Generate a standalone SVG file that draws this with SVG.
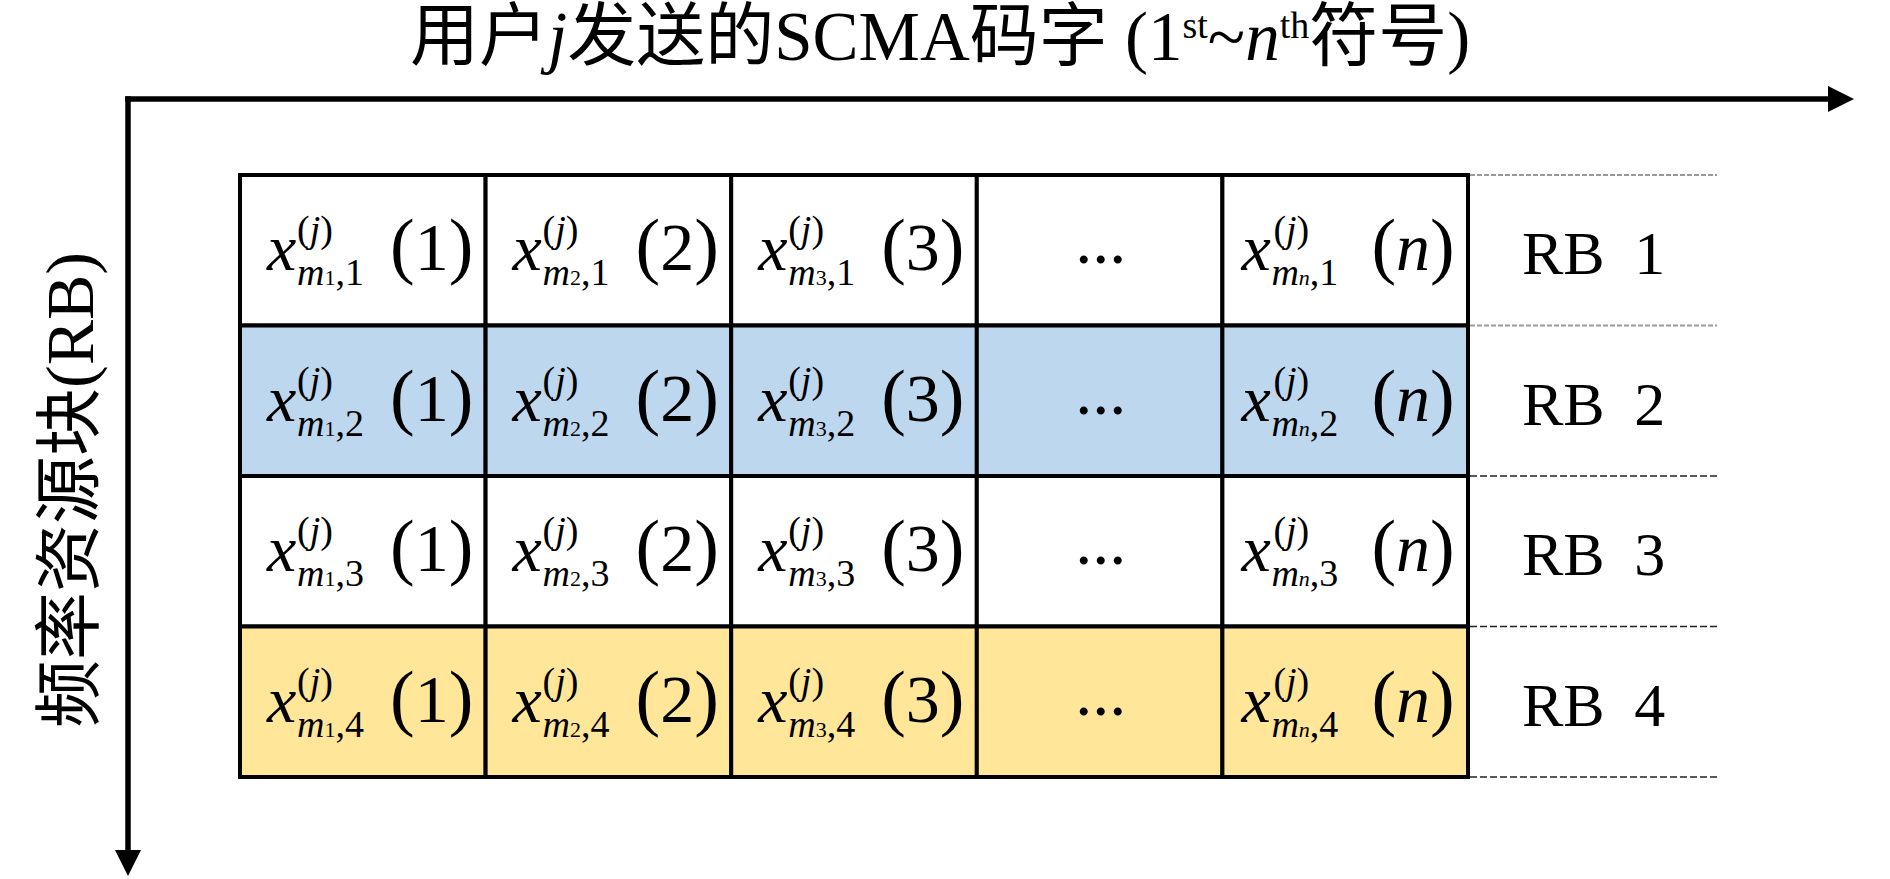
<svg xmlns="http://www.w3.org/2000/svg" width="1890" height="879" viewBox="0 0 1890 879">
<style>
text { font-family: "Liberation Serif", "Noto Sans CJK SC", serif; fill: #000; }
.X { font-size: 66px; font-style: italic; }
.P { font-size: 68px; }
.PP { font-size: 74px; }
.S { font-size: 38px; }
.SS { font-size: 22px; }
.it { font-style: italic; }
.RB { font-size: 62px; word-spacing: 14px; }
.cell { stroke: #000; stroke-width: 4; }
.w { fill: #FFFFFF; }
.b { fill: #BDD7EE; }
.y { fill: #FFE699; }
.axis { stroke: #000; stroke-width: 5.5; fill: none; stroke-linecap: square; }
.dg { stroke: #999; stroke-width: 2; stroke-dasharray: 5 2; fill: none; }
.dk { stroke: #222; stroke-width: 1.6; stroke-dasharray: 7 3; fill: none; }
</style>
<defs>
<marker id="arr" markerUnits="userSpaceOnUse" markerWidth="27" markerHeight="27" refX="0" refY="13" orient="auto">
<path d="M0,0 L26,13 L0,26 Z" fill="#000"/>
</marker>
</defs>

<g id="title">
<text x="410" y="60" font-size="69">用户<tspan class="it">j</tspan>发送的SCMA码字 (1<tspan font-size="38" dy="-22">st</tspan><tspan dy="22">~</tspan><tspan class="it">n</tspan><tspan font-size="38" dy="-22">th</tspan><tspan dy="22">符号)</tspan></text>
</g>

<g id="ylabel">
<text transform="translate(93,490) rotate(-90)" text-anchor="middle" font-size="68">频率资源块(RB)</text>
</g>

<g id="connectors">
<path class="axis" d="M128,99 H1828" marker-end="url(#arr)"/>
<path class="axis" d="M128,99 V850" marker-end="url(#arr)"/>
<path class="dg" d="M1470,175 H1717"/>
<path class="dg" d="M1470,325.5 H1717"/>
<path class="dk" d="M1470,476 H1717"/>
<path class="dk" d="M1470,626.5 H1717"/>
<path class="dk" d="M1470,777 H1717"/>
</g>

<!-- Row 1 -->
<g id="r1c1" transform="translate(240,175)"><rect class="cell w" width="245.6" height="150.5"/><text class="X" x="27" y="95">x</text><text class="S" x="57" y="67">(<tspan class="it">j</tspan>)</text><text class="S" x="57" y="110"><tspan class="it">m</tspan><tspan class="SS">1</tspan>,1</text><text class="P" x="150" y="95"><tspan class="PP">(</tspan>1<tspan class="PP">)</tspan></text></g>
<g id="r1c2" transform="translate(485.6,175)"><rect class="cell w" width="245.6" height="150.5"/><text class="X" x="27" y="95">x</text><text class="S" x="57" y="67">(<tspan class="it">j</tspan>)</text><text class="S" x="57" y="110"><tspan class="it">m</tspan><tspan class="SS">2</tspan>,1</text><text class="P" x="150" y="95"><tspan class="PP">(</tspan>2<tspan class="PP">)</tspan></text></g>
<g id="r1c3" transform="translate(731.2,175)"><rect class="cell w" width="245.6" height="150.5"/><text class="X" x="27" y="95">x</text><text class="S" x="57" y="67">(<tspan class="it">j</tspan>)</text><text class="S" x="57" y="110"><tspan class="it">m</tspan><tspan class="SS">3</tspan>,1</text><text class="P" x="150" y="95"><tspan class="PP">(</tspan>3<tspan class="PP">)</tspan></text></g>
<g id="r1c4" transform="translate(976.8,175)"><rect class="cell w" width="245.6" height="150.5"/><text class="P" x="124" y="88" text-anchor="middle">...</text></g>
<g id="r1c5" transform="translate(1222.4,175)"><rect class="cell w" width="245.6" height="150.5"/><text class="X" x="19" y="95">x</text><text class="S" x="51" y="67">(<tspan class="it">j</tspan>)</text><text class="S" x="49" y="110"><tspan class="it">m</tspan><tspan class="SS it">n</tspan>,1</text><text class="P" x="149" y="95"><tspan class="PP">(</tspan><tspan class="it">n</tspan><tspan class="PP">)</tspan></text></g>
<g id="rb1"><text class="RB" x="1522" y="274">RB 1</text></g>

<!-- Row 2 -->
<g id="r2c1" transform="translate(240,325.5)"><rect class="cell b" width="245.6" height="150.5"/><text class="X" x="27" y="95">x</text><text class="S" x="57" y="67">(<tspan class="it">j</tspan>)</text><text class="S" x="57" y="110"><tspan class="it">m</tspan><tspan class="SS">1</tspan>,2</text><text class="P" x="150" y="95"><tspan class="PP">(</tspan>1<tspan class="PP">)</tspan></text></g>
<g id="r2c2" transform="translate(485.6,325.5)"><rect class="cell b" width="245.6" height="150.5"/><text class="X" x="27" y="95">x</text><text class="S" x="57" y="67">(<tspan class="it">j</tspan>)</text><text class="S" x="57" y="110"><tspan class="it">m</tspan><tspan class="SS">2</tspan>,2</text><text class="P" x="150" y="95"><tspan class="PP">(</tspan>2<tspan class="PP">)</tspan></text></g>
<g id="r2c3" transform="translate(731.2,325.5)"><rect class="cell b" width="245.6" height="150.5"/><text class="X" x="27" y="95">x</text><text class="S" x="57" y="67">(<tspan class="it">j</tspan>)</text><text class="S" x="57" y="110"><tspan class="it">m</tspan><tspan class="SS">3</tspan>,2</text><text class="P" x="150" y="95"><tspan class="PP">(</tspan>3<tspan class="PP">)</tspan></text></g>
<g id="r2c4" transform="translate(976.8,325.5)"><rect class="cell b" width="245.6" height="150.5"/><text class="P" x="124" y="88" text-anchor="middle">...</text></g>
<g id="r2c5" transform="translate(1222.4,325.5)"><rect class="cell b" width="245.6" height="150.5"/><text class="X" x="19" y="95">x</text><text class="S" x="51" y="67">(<tspan class="it">j</tspan>)</text><text class="S" x="49" y="110"><tspan class="it">m</tspan><tspan class="SS it">n</tspan>,2</text><text class="P" x="149" y="95"><tspan class="PP">(</tspan><tspan class="it">n</tspan><tspan class="PP">)</tspan></text></g>
<g id="rb2"><text class="RB" x="1522" y="424.5">RB 2</text></g>

<!-- Row 3 -->
<g id="r3c1" transform="translate(240,476)"><rect class="cell w" width="245.6" height="150.5"/><text class="X" x="27" y="95">x</text><text class="S" x="57" y="67">(<tspan class="it">j</tspan>)</text><text class="S" x="57" y="110"><tspan class="it">m</tspan><tspan class="SS">1</tspan>,3</text><text class="P" x="150" y="95"><tspan class="PP">(</tspan>1<tspan class="PP">)</tspan></text></g>
<g id="r3c2" transform="translate(485.6,476)"><rect class="cell w" width="245.6" height="150.5"/><text class="X" x="27" y="95">x</text><text class="S" x="57" y="67">(<tspan class="it">j</tspan>)</text><text class="S" x="57" y="110"><tspan class="it">m</tspan><tspan class="SS">2</tspan>,3</text><text class="P" x="150" y="95"><tspan class="PP">(</tspan>2<tspan class="PP">)</tspan></text></g>
<g id="r3c3" transform="translate(731.2,476)"><rect class="cell w" width="245.6" height="150.5"/><text class="X" x="27" y="95">x</text><text class="S" x="57" y="67">(<tspan class="it">j</tspan>)</text><text class="S" x="57" y="110"><tspan class="it">m</tspan><tspan class="SS">3</tspan>,3</text><text class="P" x="150" y="95"><tspan class="PP">(</tspan>3<tspan class="PP">)</tspan></text></g>
<g id="r3c4" transform="translate(976.8,476)"><rect class="cell w" width="245.6" height="150.5"/><text class="P" x="124" y="88" text-anchor="middle">...</text></g>
<g id="r3c5" transform="translate(1222.4,476)"><rect class="cell w" width="245.6" height="150.5"/><text class="X" x="19" y="95">x</text><text class="S" x="51" y="67">(<tspan class="it">j</tspan>)</text><text class="S" x="49" y="110"><tspan class="it">m</tspan><tspan class="SS it">n</tspan>,3</text><text class="P" x="149" y="95"><tspan class="PP">(</tspan><tspan class="it">n</tspan><tspan class="PP">)</tspan></text></g>
<g id="rb3"><text class="RB" x="1522" y="575">RB 3</text></g>

<!-- Row 4 -->
<g id="r4c1" transform="translate(240,626.5)"><rect class="cell y" width="245.6" height="150.5"/><text class="X" x="27" y="95">x</text><text class="S" x="57" y="67">(<tspan class="it">j</tspan>)</text><text class="S" x="57" y="110"><tspan class="it">m</tspan><tspan class="SS">1</tspan>,4</text><text class="P" x="150" y="95"><tspan class="PP">(</tspan>1<tspan class="PP">)</tspan></text></g>
<g id="r4c2" transform="translate(485.6,626.5)"><rect class="cell y" width="245.6" height="150.5"/><text class="X" x="27" y="95">x</text><text class="S" x="57" y="67">(<tspan class="it">j</tspan>)</text><text class="S" x="57" y="110"><tspan class="it">m</tspan><tspan class="SS">2</tspan>,4</text><text class="P" x="150" y="95"><tspan class="PP">(</tspan>2<tspan class="PP">)</tspan></text></g>
<g id="r4c3" transform="translate(731.2,626.5)"><rect class="cell y" width="245.6" height="150.5"/><text class="X" x="27" y="95">x</text><text class="S" x="57" y="67">(<tspan class="it">j</tspan>)</text><text class="S" x="57" y="110"><tspan class="it">m</tspan><tspan class="SS">3</tspan>,4</text><text class="P" x="150" y="95"><tspan class="PP">(</tspan>3<tspan class="PP">)</tspan></text></g>
<g id="r4c4" transform="translate(976.8,626.5)"><rect class="cell y" width="245.6" height="150.5"/><text class="P" x="124" y="88" text-anchor="middle">...</text></g>
<g id="r4c5" transform="translate(1222.4,626.5)"><rect class="cell y" width="245.6" height="150.5"/><text class="X" x="19" y="95">x</text><text class="S" x="51" y="67">(<tspan class="it">j</tspan>)</text><text class="S" x="49" y="110"><tspan class="it">m</tspan><tspan class="SS it">n</tspan>,4</text><text class="P" x="149" y="95"><tspan class="PP">(</tspan><tspan class="it">n</tspan><tspan class="PP">)</tspan></text></g>
<g id="rb4"><text class="RB" x="1522" y="725.5">RB 4</text></g>
</svg>
